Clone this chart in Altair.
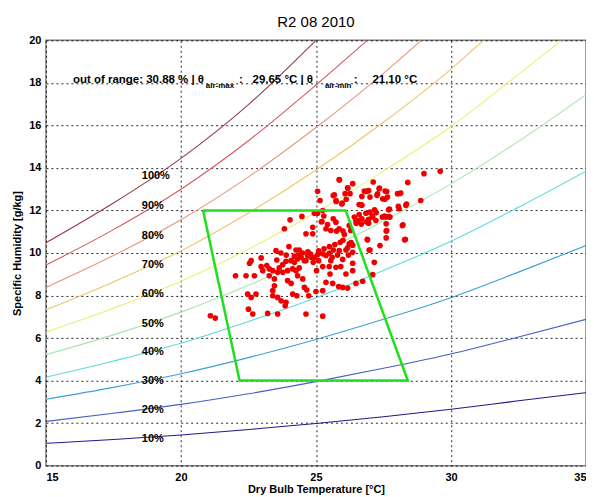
import altair as alt
import pandas as pd

# ---------------- data ----------------
TEMPS = [15, 17.5, 20, 22.5, 25, 27.5, 30, 32.5, 35]

rh10_q = [1.05, 1.23, 1.44, 1.70, 1.98, 2.30, 2.65, 3.05, 3.43]
rh20_q = [2.08, 2.46, 2.88, 3.38, 3.95, 4.58, 5.25, 6.05, 6.88]
rh30_q = [3.12, 3.68, 4.32, 5.08, 5.93, 6.88, 7.90, 9.10, 10.35]
rh40_q = [4.16, 4.92, 5.76, 6.78, 7.90, 9.18, 10.55, 12.15, 13.85]
rh50_q = [5.22, 6.15, 7.22, 8.48, 9.90, 11.50, 13.25, 15.25, 17.45]
rh60_t = [15, 17.5, 20, 22.5, 25, 27.5, 30, 32.5, 34.1]
rh60_q = [6.28, 7.40, 8.67, 10.18, 11.90, 13.85, 15.95, 18.40, 20.0]
rh70_t = [15, 17.5, 20, 22.5, 25, 27.5, 30, 31.2]
rh70_q = [7.33, 8.64, 10.10, 11.88, 13.90, 16.15, 18.65, 20.0]
rh80_t = [15, 17.5, 20, 22.5, 25, 27.5, 28.9]
rh80_q = [8.38, 9.88, 11.56, 13.58, 15.90, 18.45, 20.0]
rh90_t = [15, 17.5, 20, 22.5, 25, 26.9]
rh90_q = [9.43, 11.10, 13.00, 15.28, 17.90, 20.0]
rh100_t = [15, 17.5, 20, 22.5, 25.0]
rh100_q = [10.48, 12.35, 14.45, 16.98, 20.0]

rh_names = ["10%", "20%", "30%", "40%", "50%", "60%", "70%", "80%", "90%", "100%"]
rh_colors = ["#1c1c8c", "#4460c4", "#3aa0d8", "#5cdade", "#a8e6ac",
             "#f0ee70", "#f0c468", "#e8967a", "#d45a62", "#963a4c"]
label_temp = 18.55
label_hum = [1.27, 2.62, 3.97, 5.33, 6.68, 8.05, 9.42, 10.8, 12.2, 13.6]

comfort_temp = [20.82, 26.1, 28.4, 22.17, 20.82]
comfort_hum = [12.0, 12.0, 4.0, 4.0, 12.0]

obs_temp = [
    29.0, 29.6, 28.4, 28.88, 25.86, 26.36, 26.17, 26.08, 25.06, 25.64, 27.12, 27.34,
    27.56, 26.79, 26.92, 26.26, 26.7, 25.74, 25.96, 25.15, 26.6, 26.7, 27.26, 27.47,
    27.65, 28.02, 28.14, 28.33, 28.08, 27.69, 27.17, 26.85, 27.0, 26.6, 26.42, 26.48,
    26.7, 27.1, 27.22, 27.46, 27.59, 27.74, 26.95, 27.6, 28.2, 27.6, 27.6, 28.28,
    26.91, 27.37, 27.0, 27.16, 27.1, 26.73, 26.48,
    25.25, 24.94, 25.06, 25.22, 25.43, 25.37, 25.64, 25.74, 25.86, 26.0, 26.05, 25.76,
    25.55, 26.23, 26.29, 26.23, 26.17, 26.36, 26.11, 25.86, 25.64, 25.49, 25.37, 25.25,
    25.06, 24.94, 24.82, 24.69, 24.63, 24.9, 25.1, 25.99, 25.55, 25.25, 25.49, 25.74,
    25.92, 26.36, 26.36, 26.11, 25.52, 25.02, 25.37, 25.62, 25.84, 25.99, 26.17, 25.25,
    25.0, 24.73, 24.04, 24.48, 23.83, 24.63, 24.88, 24.88,
    23.52, 24.26, 24.38, 22.97, 22.6, 22.54, 23.55, 23.89, 23.77, 23.64, 24.08, 24.2,
    24.32, 24.45, 24.57, 23.18, 23.27, 23.4, 23.58, 23.77, 23.95, 24.14, 24.26, 24.38,
    22.97, 23.03, 22.02, 22.41, 22.72, 23.27, 23.46, 23.95, 24.08, 24.32, 24.51, 23.46,
    23.4, 22.47, 22.6, 22.78, 23.4, 23.58, 23.71, 23.89, 23.86, 24.14, 24.29, 24.57,
    24.66, 22.5, 22.66, 23.21, 23.58, 24.63, 25.25, 21.09, 21.27,
    25.87, 26.18, 25.68, 25.75, 25.97, 26.12, 26.68, 26.86, 26.95, 27.35, 27.28, 27.62,
    27.0, 27.55, 28.1, 28.35, 28.05, 27.72, 27.54, 27.7, 27.23, 27.09, 26.95, 26.86,
    26.68, 26.55, 26.49, 28.22, 27.62, 28.31, 26.9, 26.97, 26.3, 26.36, 25.29, 25.2,
    24.4, 24.5, 24.7, 24.8, 25.1, 25.3, 25.5, 25.7, 25.9, 26.0, 24.2, 23.9, 23.7, 24.0,
    25.8, 26.2, 25.6,
]
obs_hum = [
    13.73, 13.84, 13.32, 12.47, 13.45, 13.26, 13.07, 12.79, 12.9, 12.7, 13.34, 13.02,
    12.91, 12.91, 12.91, 12.79, 12.66, 12.47, 12.31, 12.47, 12.28, 12.24, 12.71, 12.55,
    12.63, 12.79, 12.82, 12.24, 12.08, 12.03, 12.03, 11.87, 11.92, 11.81, 11.69, 11.53,
    11.61, 11.69, 11.53, 11.69, 11.69, 11.69, 11.4, 11.37, 11.29, 11.03, 10.71, 10.62,
    10.62, 10.35, 10.14, 9.56, 8.98, 8.67, 8.57,
    12.0, 11.87, 11.87, 11.48, 11.34, 11.14, 11.61, 11.45, 11.14, 11.03, 10.87, 11.03,
    11.06, 11.29, 11.06, 10.43, 10.24, 10.03, 10.14, 10.11, 10.14, 9.99, 9.88, 9.96,
    9.92, 9.8, 9.8, 9.88, 9.64, 9.56, 9.64, 9.7, 9.64, 9.36, 9.36, 9.33,
    9.36, 9.52, 9.17, 9.01, 9.01, 9.17, 8.62, 8.57, 8.42, 8.38, 8.35, 8.23,
    8.19, 7.99, 11.56, 11.72, 11.14, 10.9, 11.21, 10.9,
    10.11, 10.14, 10.14, 9.77, 9.64, 9.52, 9.67, 9.61, 9.45, 9.3, 9.64, 9.56,
    9.72, 9.8, 9.64, 9.41, 9.25, 9.17, 9.09, 9.09, 9.17, 9.25, 9.17, 9.3,
    9.36, 9.17, 8.93, 8.93, 8.93, 8.93, 8.78, 8.7, 8.57, 8.93, 8.78, 8.46,
    8.23, 8.07, 7.91, 8.07, 7.99, 7.91, 7.75, 7.68, 7.52, 8.07, 7.99, 8.38,
    8.26, 7.36, 7.13, 7.16, 7.13, 7.13, 7.03, 7.05, 6.94,
    13.44, 13.05, 12.74, 12.42, 12.35, 12.53, 12.27, 12.89, 12.94, 13.05, 12.78, 12.89,
    12.63, 12.53, 12.8, 12.3, 12.19, 12.06, 11.74, 11.71, 11.9, 11.74, 11.58, 11.47,
    11.36, 11.52, 11.4, 11.33, 11.06, 10.64, 10.64, 10.14, 10.49, 10.37, 11.74, 11.47,
    9.9, 10.0, 10.05, 9.95, 10.1, 10.2, 10.3, 10.4, 10.5, 10.6, 9.85, 9.9, 10.0, 10.3,
    9.9, 9.9, 9.8,
]

title_text = "R2 08 2010"
x_title = "Dry Bulb Temperature [°C]"
y_title = "Specific Humidity [g/kg]"

# ---------------- build tables ----------------
curve_t = [TEMPS, TEMPS, TEMPS, TEMPS, TEMPS, rh60_t, rh70_t, rh80_t, rh90_t, rh100_t]
curve_q = [rh10_q, rh20_q, rh30_q, rh40_q, rh50_q, rh60_q, rh70_q, rh80_q, rh90_q, rh100_q]
rows = []
for name, ts, qs in zip(rh_names, curve_t, curve_q):
    for i, (t, q) in enumerate(zip(ts, qs)):
        rows.append({"rh": name, "T": t, "q": q, "i": i})
curves_df = pd.DataFrame(rows)

labels_df = pd.DataFrame({"rh": rh_names, "T": [label_temp] * len(rh_names), "q": label_hum})
comfort_df = pd.DataFrame({"T": comfort_temp, "q": comfort_hum, "i": list(range(len(comfort_temp)))})
obs_df = pd.DataFrame({"T": obs_temp, "q": obs_hum})

xs = alt.Scale(domain=[15, 35], nice=False, zero=False)
ys = alt.Scale(domain=[0, 20], nice=False, zero=False)
X = alt.X("T:Q", scale=xs, title=x_title,
          axis=alt.Axis(values=[15, 20, 25, 30, 35], format="d"))
Y = alt.Y("q:Q", scale=ys, title=y_title,
          axis=alt.Axis(values=[0, 2, 4, 6, 8, 10, 12, 14, 16, 18, 20], format="d"))

lines = alt.Chart(curves_df).mark_line(strokeWidth=1.1, interpolate="monotone", clip=True).encode(
    x=X, y=Y,
    color=alt.Color("rh:N", scale=alt.Scale(domain=rh_names, range=rh_colors), legend=None),
    detail="rh:N",
    order="i:Q",
)

labels = alt.Chart(labels_df).mark_text(
    align="left", baseline="middle", font="Liberation Sans", fontSize=11,
    fontWeight="bold", color="black"
).encode(x="T:Q", y="q:Q", text="rh:N")

points = alt.Chart(obs_df).mark_circle(size=32, color="#ee0000", opacity=1).encode(x="T:Q", y="q:Q")

comfort = alt.Chart(comfort_df).mark_line(color="#1fe01f", strokeWidth=2.5).encode(
    x="T:Q", y="q:Q", order="i:Q"
)

ann_df = pd.DataFrame({
    "T": [16.0, 20.92, 22.15, 22.65, 25.33, 26.4, 27.09],
    "q": [18.0, 17.75, 18.0, 18.0, 17.75, 18.0, 18.0],
    "txt": ["out of range: 30.88 % | θ", "air-max", ":", "29.65 °C | θ", "air-min", ":", "21.10 °C"],
    "fs": [11.5, 8, 11.5, 11.5, 8, 11.5, 11.5],
})
ann = alt.Chart(ann_df).mark_text(
    align="left", baseline="alphabetic", font="Liberation Sans", fontWeight="bold", color="black"
).encode(x="T:Q", y="q:Q", text="txt:N", size=alt.Size("fs:Q", scale=None, legend=None))

chart = alt.layer(lines, labels, points, comfort, ann).properties(
    width=541, height=426,
    title=alt.TitleParams(title_text, font="Liberation Sans", fontSize=15, fontWeight="normal",
                          color="black", offset=4),
    autosize=alt.AutoSizeParams(type="none"),
    padding={"left": 38, "top": 32, "right": 0, "bottom": 30},
).configure_view(
    stroke="#808080", strokeWidth=1.5
).configure_axis(
    grid=True, gridColor="black", gridDash=[2, 3], gridOpacity=0.85, gridWidth=1,
    domain=False, ticks=False,
    labelFont="Liberation Sans", labelFontSize=11, labelFontWeight="bold", labelColor="black",
    titleFont="Liberation Sans", titleFontSize=11, titleFontWeight="bold", titleColor="black",
).configure_axisX(labelPadding=6, titlePadding=1).configure_axisY(labelPadding=5, titlePadding=6)

chart.save("out.html", embed_options={"renderer": "svg", "actions": False})
